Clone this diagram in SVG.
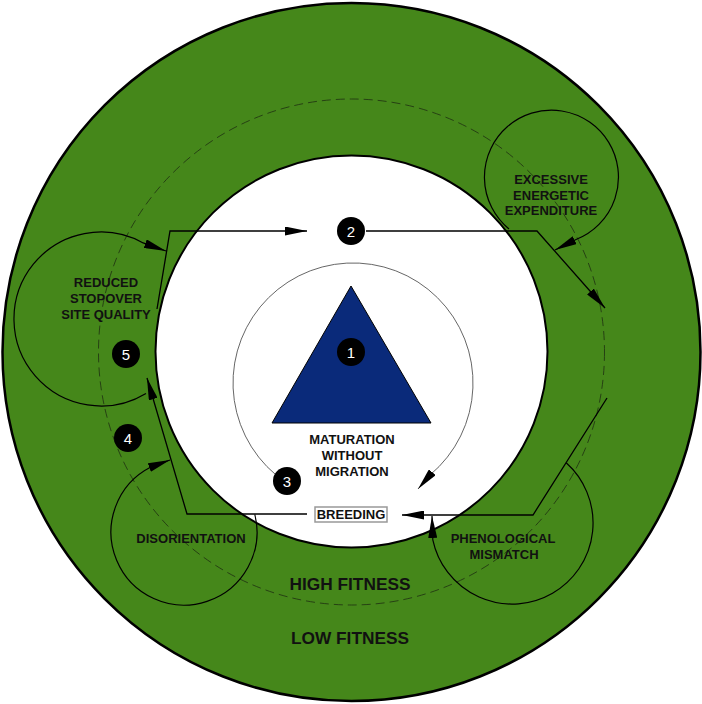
<svg xmlns="http://www.w3.org/2000/svg" width="702" height="704" viewBox="0 0 702 704">
<style>
.lbl{font-family:"Liberation Sans",Arial,sans-serif;font-weight:bold;font-size:13px;fill:#111;text-anchor:middle}
.big{font-family:"Liberation Sans",Arial,sans-serif;font-weight:bold;font-size:17.3px;fill:#111;text-anchor:middle}
.num{font-family:"Liberation Sans",Arial,sans-serif;font-size:15px;fill:#fff;text-anchor:middle}
.conn{fill:none;stroke:#000;stroke-width:1.3;marker-end:url(#ah)}
.loop{fill:none;stroke:#000;stroke-width:1.2;marker-end:url(#ah)}
.thin{fill:none;stroke:#555;stroke-width:0.9;marker-end:url(#ah)}
.badge{fill:#000}
</style>
<defs>
<marker id="ah" markerUnits="userSpaceOnUse" markerWidth="22" markerHeight="9" refX="22" refY="4.5" orient="auto">
<path d="M0,0 L22,4.5 L0,9 Z" fill="#000"/>
</marker>
</defs>
<rect width="702" height="704" fill="#fff"/>
<g id="zones">
<circle id="low-fitness-zone" cx="351.5" cy="352" r="349" fill="#45871a" stroke="#000" stroke-width="2.5"/>
<circle id="fitness-boundary" cx="351.5" cy="352" r="253" fill="none" stroke="#1e2e12" stroke-width="0.8" stroke-dasharray="9 5"/>
<circle id="breeding-zone" cx="351.5" cy="351.5" r="196" fill="#fff" stroke="#000" stroke-width="2"/>
</g>
<g id="maturation">
<path d="M351,286 L272,423 L431,423 Z" fill="#0a2a7a" stroke="#000" stroke-width="1"/>
<text class="lbl" x="352" y="444">MATURATION</text>
<text class="lbl" x="352" y="460">WITHOUT</text>
<text class="lbl" x="352" y="476">MIGRATION</text>
</g>
<g id="breeding">
<rect x="315" y="507" width="72" height="15" fill="#fff" stroke="#999" stroke-width="1.5"/>
<text class="lbl" x="351" y="519">BREEDING</text>
</g>
<g id="excessive-energetic-expenditure">
<text class="lbl" x="551" y="183.5">EXCESSIVE</text>
<text class="lbl" x="551" y="199.5">ENERGETIC</text>
<text class="lbl" x="551" y="215">EXPENDITURE</text>
</g>
<g id="reduced-stopover-site-quality">
<text class="lbl" x="106" y="287">REDUCED</text>
<text class="lbl" x="106" y="303">STOPOVER</text>
<text class="lbl" x="106" y="319">SITE QUALITY</text>
</g>
<g id="disorientation">
<text class="lbl" x="191" y="542.5">DISORIENTATION</text>
</g>
<g id="phenological-mismatch">
<text class="lbl" x="503" y="542.5">PHENOLOGICAL</text>
<text class="lbl" x="504" y="559">MISMATCH</text>
</g>
<g id="fitness-labels">
<text class="big" x="350" y="589.5">HIGH FITNESS</text>
<text class="big" x="350" y="644">LOW FITNESS</text>
</g>
<g id="connectors">
<path class="thin" d="M286,482.5 A120,120 0 1 1 430,475 L418,489"/>
<path class="loop" d="M509,229 A67,67 0 1 1 576,239.5 L555,250"/>
<path class="loop" d="M146,393.4 A87,87 0 1 1 143.2,242.9 L166,251"/>
<path class="loop" d="M254.8,514.3 A73,73 0 1 1 150.9,467 L170,460"/>
<path class="loop" d="M566.2,462.8 A81,81 0 1 1 432.8,539.8 L432,516"/>
<path class="conn" d="M157,309 L170,231 L307,231"/>
<path class="conn" d="M366,231 L537,231 L605,308"/>
<path class="conn" d="M607,398 L533,515 L402,515"/>
<path class="conn" d="M307,514 L187,514 L147,378"/>
</g>
<g id="badge-1"><circle class="badge" cx="351" cy="352" r="14"/><text class="num" x="351" y="357.5">1</text></g>
<g id="badge-2"><circle class="badge" cx="351" cy="231" r="14"/><text class="num" x="351" y="236.5">2</text></g>
<g id="badge-3"><circle class="badge" cx="287" cy="481" r="14"/><text class="num" x="287" y="486.5">3</text></g>
<g id="badge-4"><circle class="badge" cx="128" cy="438" r="14"/><text class="num" x="128" y="443.5">4</text></g>
<g id="badge-5"><circle class="badge" cx="126" cy="354" r="14"/><text class="num" x="126" y="359.5">5</text></g>
</svg>
